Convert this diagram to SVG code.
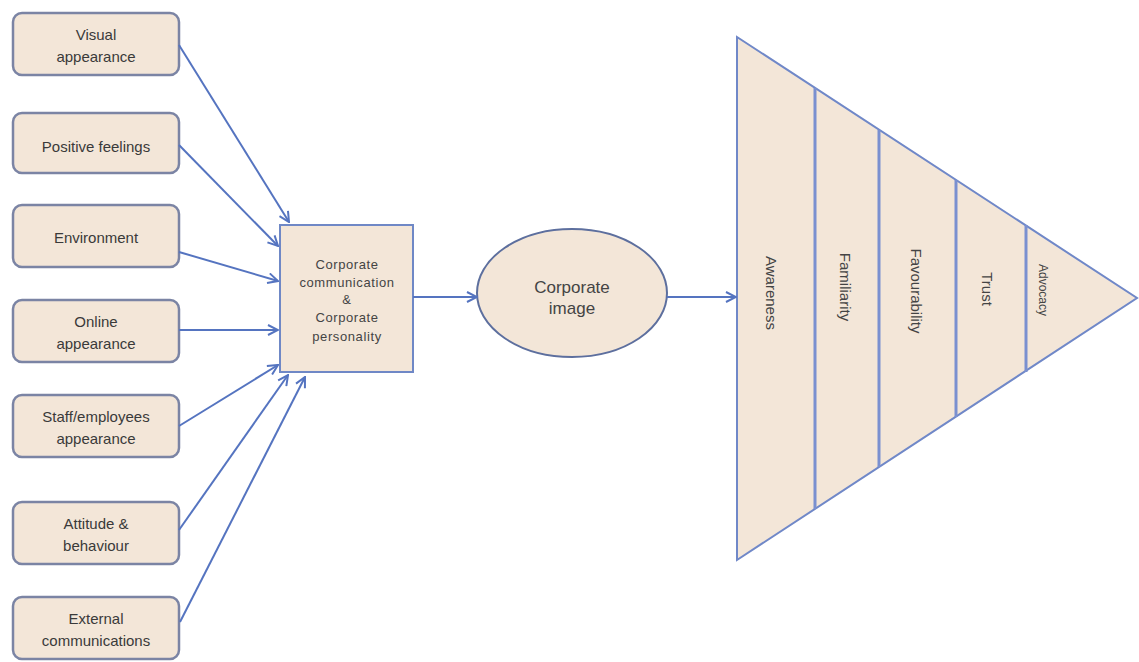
<svg xmlns="http://www.w3.org/2000/svg" width="1139" height="662" viewBox="0 0 1139 662">
<style>
.box{fill:#f3e6d8;stroke:#7b84a4;stroke-width:2.5}
.cbox{fill:#f3e6d8;stroke:#6f88c6;stroke-width:2}
.ell{fill:#f3e6d8;stroke:#5d6f9e;stroke-width:2}
.tri{fill:#f3e6d8;stroke:#7088c8;stroke-width:2}
.div{stroke:#7a90d0;stroke-width:3;fill:none}
.t{font-family:"Liberation Sans",Arial,sans-serif;font-size:15px;fill:#3a3a3a;text-anchor:middle}
.ct{font-family:"Liberation Sans",Arial,sans-serif;font-size:13px;fill:#444;text-anchor:middle;letter-spacing:0.6px}
.et{font-family:"Liberation Sans",Arial,sans-serif;font-size:17px;fill:#444;text-anchor:middle}
.pt{font-family:"Liberation Sans",Arial,sans-serif;font-size:15px;fill:#444;text-anchor:middle}
.conn line{stroke:#5574c0;stroke-width:2;marker-end:url(#ah)}
</style>
<defs>
<marker id="ah" viewBox="0 0 12 12" refX="11" refY="6" markerWidth="12" markerHeight="12" markerUnits="userSpaceOnUse" orient="auto">
<path d="M1,1 L11,6 L1,11" fill="none" stroke="#5574c0" stroke-width="2"/>
</marker>
</defs>
<rect width="1139" height="662" fill="#ffffff"/>
<g id="n-visual"><rect class="box" x="13" y="13" width="166" height="62" rx="9"/><text class="t" x="96" y="40">Visual</text><text class="t" x="96" y="62">appearance</text></g>
<g id="n-positive"><rect class="box" x="13" y="113" width="166" height="60" rx="9"/><text class="t" x="96" y="152">Positive feelings</text></g>
<g id="n-environment"><rect class="box" x="13" y="205" width="166" height="62" rx="9"/><text class="t" x="96" y="243">Environment</text></g>
<g id="n-online"><rect class="box" x="13" y="300" width="166" height="62" rx="9"/><text class="t" x="96" y="327">Online</text><text class="t" x="96" y="349">appearance</text></g>
<g id="n-staff"><rect class="box" x="13" y="395" width="166" height="62" rx="9"/><text class="t" x="96" y="422">Staff/employees</text><text class="t" x="96" y="444">appearance</text></g>
<g id="n-attitude"><rect class="box" x="13" y="502" width="166" height="62" rx="9"/><text class="t" x="96" y="529">Attitude &amp;</text><text class="t" x="96" y="551">behaviour</text></g>
<g id="n-external"><rect class="box" x="13" y="597" width="166" height="62" rx="9"/><text class="t" x="96" y="624">External</text><text class="t" x="96" y="646">communications</text></g>
<g id="n-central"><rect class="cbox" x="280" y="225" width="133" height="147"/>
<text class="ct" x="347" y="269">Corporate</text>
<text class="ct" x="347" y="287">communication</text>
<text class="ct" x="347" y="304">&amp;</text>
<text class="ct" x="347" y="322">Corporate</text>
<text class="ct" x="347" y="341">personality</text></g>
<g id="n-image"><ellipse class="ell" cx="572" cy="293" rx="95" ry="64"/><text class="et" x="572" y="293">Corporate</text><text class="et" x="572" y="314">image</text></g>
<g id="n-pyramid">
<polygon class="tri" points="737,37 1137,298 737,560"/>
<line class="div" x1="815" y1="88" x2="815" y2="509"/>
<line class="div" x1="879" y1="130" x2="879" y2="467"/>
<line class="div" x1="956" y1="180" x2="956" y2="417"/>
<line class="div" x1="1026" y1="225" x2="1026" y2="372"/>
<text class="pt" transform="translate(771,293) rotate(90)" dy="5">Awareness</text>
<text class="pt" transform="translate(845,287) rotate(90)" dy="5">Familiarity</text>
<text class="pt" transform="translate(916,291) rotate(90)" dy="5">Favourability</text>
<text class="pt" transform="translate(987,289) rotate(90)" dy="5">Trust</text>
<text class="pt" style="font-size:12px" transform="translate(1043,290) rotate(90)" dy="4">Advocacy</text>
</g>
<g id="connectors" class="conn">
<line x1="179" y1="45" x2="289" y2="222"/>
<line x1="179" y1="145" x2="278" y2="246"/>
<line x1="179" y1="252" x2="278" y2="281"/>
<line x1="179" y1="330" x2="278" y2="330"/>
<line x1="179" y1="426" x2="278" y2="365"/>
<line x1="179" y1="530" x2="288" y2="375"/>
<line x1="180" y1="622" x2="305" y2="377"/>
<line x1="413" y1="297" x2="477" y2="297"/>
<line x1="667" y1="297" x2="736" y2="297"/>
</g>
</svg>
